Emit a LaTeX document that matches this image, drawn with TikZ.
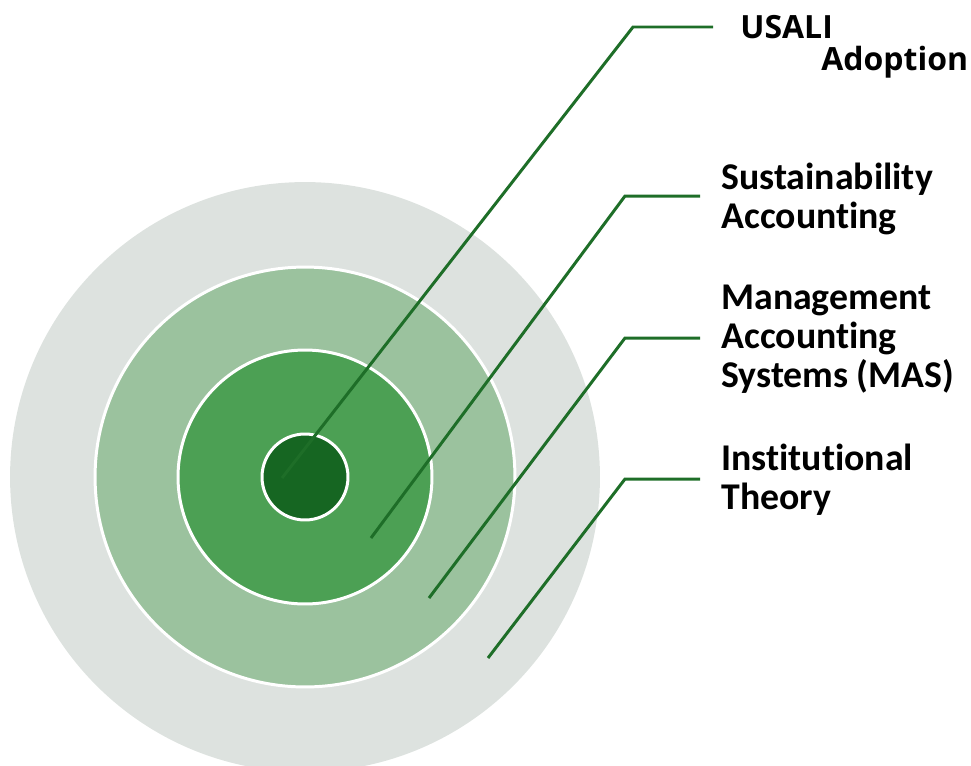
\documentclass[tikz,border=0pt]{standalone}
\usepackage{fontspec}
\setmainfont{Carlito}[Ligatures=CommonOff]
\newfontfamily\headfont{Open Sans}

\definecolor{ringgray}{RGB}{221,226,223}
\definecolor{ringlight}{RGB}{155,194,158}
\definecolor{ringmid}{RGB}{76,160,84}
\definecolor{ringdark}{RGB}{22,102,34}
\definecolor{leadgreen}{RGB}{30,110,40}

\begin{document}
\begin{tikzpicture}[
  x=0.02cm, y=-0.02cm,
  ring/.style={circle,draw=white,line width=1.7pt,inner sep=0pt},
  leader/.style={draw=leadgreen,line width=1.7pt},
  lbl/.style={anchor=base west,align=left,inner sep=0pt,
    font=\fontsize{21.5}{22.1}\selectfont\bfseries},
  head/.style={anchor=base west,inner sep=0pt,
    font=\headfont\fontsize{18.2}{18}\selectfont\bfseries}
]
  \useasboundingbox (0,0) rectangle (971,765);

  % rings, outside in
  \node[ring,draw=none,fill=ringgray,minimum size=11.8cm] (theory) at (305,477) {};
  \node[ring,fill=ringlight,minimum size=8.4cm] (mas) at (305,477) {};
  \node[ring,fill=ringmid,minimum size=5.08cm] (sust) at (305,477) {};
  \node[ring,fill=ringdark,minimum size=1.72cm] (usali) at (305,477) {};

  % leader starts, bends and ends
  \coordinate (s1) at (282,478);
  \coordinate (k1) at (633,27);
  \coordinate (e1) at (713,27);
  \coordinate (s2) at (371,538);
  \coordinate (k2) at (625,196);
  \coordinate (e2) at (700,196);
  \coordinate (s3) at (429,598);
  \coordinate (k3) at (625,338);
  \coordinate (e3) at (700,338);
  \coordinate (s4) at (488,658);
  \coordinate (k4) at (625,479);
  \coordinate (e4) at (700,479);

  % labels (base anchor sits on the last line)
  \node[head] (t1a) at (740,38) {USALI};
  \node[head] (t1b) at (821,70) {Adoption};
  \node[lbl] (t2) at (721,228) {Sustainability\\Accounting};
  \node[lbl] (t3) at (721,387) {Management\\Accounting\\Systems (MAS)};
  \node[lbl] (t4) at (721,509) {Institutional\\Theory};

  % leader lines
  \draw[leader] (s1) -- (k1) -- (e1);
  \draw[leader] (s2) -- (k2) -- (e2);
  \draw[leader] (s3) -- (k3) -- (e3);
  \draw[leader] (s4) -- (k4) -- (e4);

\end{tikzpicture}
\end{document}
